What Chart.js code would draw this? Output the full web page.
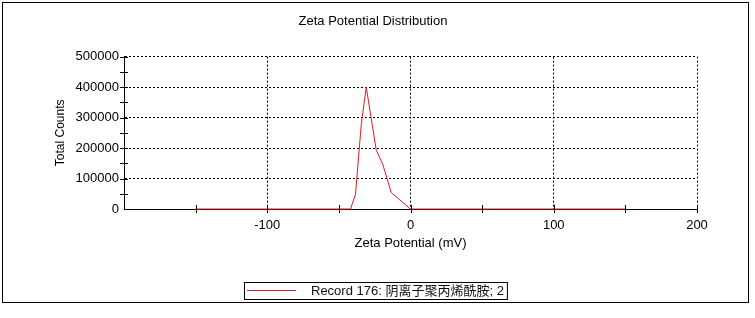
<!DOCTYPE html>
<html>
<head>
<meta charset="utf-8">
<script src="https://cdn.jsdelivr.net/npm/chart.js@4/dist/chart.umd.min.js"></script>
<style>
  body { margin: 0; background: #fff; }
  #wrap { position: relative; width: 755px; height: 318px; }
  #frame { position: absolute; left: 2px; top: 2px; width: 745px; height: 299px; border: 1px solid #000; pointer-events: none; }
</style>
</head>
<body>
<div id="wrap">
  <canvas id="myChart" width="755" height="318"></canvas>
  <div id="frame"></div>
</div>
<script>
// zeta potential (mV) and total counts
var zeta = [-150, -41.9, -38.4, -34.4, -30.9, -23.9, -19.3, -13.5, 0, 150];
var counts = [0, 0, 48000, 276000, 400000, 193000, 146000, 54000, 0, 0];
var xTickLabels = [-100, 0, 100, 200];
var yTickLabels = [0, 100000, 200000, 300000, 400000, 500000];
var seriesName = "Record 176: 阴离子聚丙烯酰胺; 2";

var FONT = "'Liberation Sans', Arial, 'Noto Sans CJK SC', sans-serif";
var RED = "rgb(225,25,35)";

var points = [];
for (var i = 0; i < zeta.length; i++) {
  points.push({ x: zeta[i], y: counts[i] });
}

// tick marks that cross the axis lines
var crossTicks = {
  id: 'crossTicks',
  afterDraw: function (chart) {
    var ctx = chart.ctx;
    var xs = chart.scales.x, ys = chart.scales.y;
    var area = chart.chartArea;
    ctx.save();
    ctx.strokeStyle = '#000';
    ctx.lineWidth = 1;
    ctx.beginPath();
    xs.ticks.forEach(function (t) {
      if (t.value === xs.min) return;
      var px = Math.round(xs.getPixelForValue(t.value)) + 0.5;
      ctx.moveTo(px, area.bottom - 4);
      ctx.lineTo(px, area.bottom + 4);
    });
    ys.ticks.forEach(function (t) {
      if (t.value === ys.min) return;
      var py = Math.round(ys.getPixelForValue(t.value)) + 0.5;
      ctx.moveTo(area.left - 4, py);
      ctx.lineTo(area.left + 4, py);
    });
    ctx.stroke();
    ctx.restore();
  }
};

// boxed legend below the x axis title
var boxLegend = {
  id: 'boxLegend',
  afterDraw: function (chart) {
    var ctx = chart.ctx;
    var ds = chart.data.datasets[0];
    ctx.save();
    ctx.font = "13px " + FONT;
    var tw = ctx.measureText(ds.label).width;
    var lineW = 49, gap = 15;
    var w = 3 + lineW + gap + tw + 3;
    var h = 17;
    var x0 = Math.round((chart.width - w) / 2) - 2;
    var y0 = chart.height - 36;
    ctx.strokeStyle = '#000';
    ctx.lineWidth = 1;
    ctx.strokeRect(x0 + 0.5, y0 + 0.5, w, h);
    ctx.strokeStyle = ds.borderColor;
    ctx.beginPath();
    ctx.moveTo(x0 + 3, y0 + 8.5);
    ctx.lineTo(x0 + 3 + lineW, y0 + 8.5);
    ctx.stroke();
    ctx.fillStyle = '#111';
    ctx.textBaseline = 'middle';
    ctx.fillText(ds.label, x0 + 3 + lineW + gap, y0 + 9.5);
    ctx.restore();
  }
};

var chart = new Chart(document.getElementById("myChart"), {
  type: 'line',
  data: {
    datasets: [{
      label: seriesName,
      data: points,
      borderColor: RED,
      backgroundColor: RED,
      borderWidth: 1,
      pointRadius: 0,
      tension: 0,
      fill: false,
      clip: false
    }]
  },
  options: {
    responsive: false,
    animation: false,
    layout: { padding: { left: 49, right: 58, top: 0, bottom: 63 } },
    plugins: {
      legend: { display: false },
      tooltip: { enabled: false },
      title: {
        display: true,
        text: 'Zeta Potential Distribution',
        color: '#000',
        font: { family: FONT, size: 13, weight: 'normal' },
        padding: { top: 14, bottom: 27 }
      }
    },
    scales: {
      x: {
        type: 'linear',
        min: -200,
        max: 200,
        afterFit: function (s) { s.height = 46; },
        ticks: {
          stepSize: 50,
          autoSkip: false,
          maxRotation: 0,
          padding: 9,
          color: '#000',
          font: { family: FONT, size: 13 },
          callback: function (v) { return xTickLabels.indexOf(v) >= 0 ? String(v) : ''; }
        },
        grid: {
          drawTicks: false,
          lineWidth: 1,
          color: function (c) {
            return (c.tick && c.tick.value !== -200 && xTickLabels.indexOf(c.tick.value) >= 0) ? '#000' : 'rgba(0,0,0,0)';
          }
        },
        border: { display: true, color: '#000', width: 1, dash: [2, 2] },
        title: {
          display: true,
          text: 'Zeta Potential (mV)',
          color: '#000',
          font: { family: FONT, size: 13 },
          padding: { top: 4, bottom: 4 }
        }
      },
      y: {
        min: 0,
        max: 500000,
        afterFit: function (s) { s.width = 75; },
        ticks: {
          stepSize: 50000,
          autoSkip: false,
          padding: 5,
          color: '#000',
          font: { family: FONT, size: 13 },
          callback: function (v) { return yTickLabels.indexOf(v) >= 0 ? String(v) : ''; }
        },
        grid: {
          drawTicks: false,
          lineWidth: 1,
          color: function (c) {
            return (c.tick && c.tick.value > 0 && yTickLabels.indexOf(c.tick.value) >= 0) ? '#000' : 'rgba(0,0,0,0)';
          }
        },
        border: { display: true, color: '#000', width: 1, dash: [2, 2] },
        title: {
          display: true,
          text: 'Total Counts',
          color: '#000',
          font: { family: FONT, size: 12 },
          padding: { top: 4, bottom: 4 }
        }
      }
    }
  },
  plugins: [crossTicks, boxLegend]
});
</script>
</body>
</html>
